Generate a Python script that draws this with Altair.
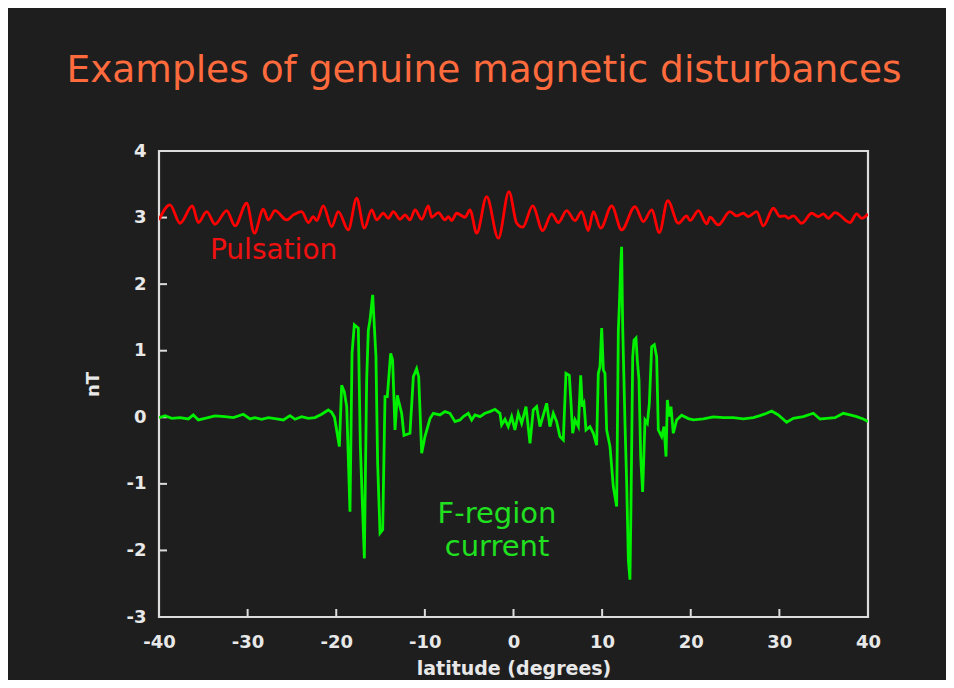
import altair as alt
import pandas as pd

# ---------------- data ----------------
red_lat = [-40, -38.76, -37.63, -36.24, -35.56, -34.62, -33.68, -32.36, -31.42, -30.11,
           -29.24, -28.23, -27.66, -26.91, -25.6, -24.84, -23.9, -23.15, -22.59, -22.21,
           -21.46, -20.52, -19.77, -18.64, -17.7, -16.83, -16.0, -15.44, -14.69, -14.12,
           -13.56, -12.81, -12.24, -11.68, -11.11, -10.36, -9.61, -9.23, -8.48, -7.73,
           -7.35, -6.98, -6.41, -5.47, -4.91, -4.15, -3.03, -1.71, -0.51, 0.36,
           1.04, 2.16, 3.29, 4.31, 5.06, 6.0, 6.94, 7.69, 8.44, 9.01,
           9.84, 11.08, 12.2, 13.71, 14.65, 15.59, 16.46, 17.4, 18.6, 19.54,
           19.92, 20.86, 21.8, 22.17, 23.11, 24.43, 25.18, 25.93, 26.5, 27.44,
           28.19, 29.32, 30.07, 30.63, 31.01, 31.57, 32.52, 33.65, 34.39, 34.96,
           35.52, 36.28, 37.97, 38.72, 39.29, 40]
red_nT = [2.965, 3.19, 2.915, 3.175, 2.925, 3.09, 2.9, 3.105, 2.875, 3.215,
          2.765, 3.125, 2.965, 3.105, 2.965, 3.04, 3.09, 2.925, 3.015, 2.955,
          3.175, 2.865, 3.09, 2.815, 3.29, 2.84, 3.115, 2.965, 3.065, 2.99,
          3.09, 2.975, 3.04, 2.965, 3.115, 2.975, 3.175, 3.005, 3.075, 2.965,
          3.015, 2.955, 3.065, 3.005, 3.115, 2.765, 3.315, 2.69, 3.39, 2.915,
          2.855, 3.175, 2.805, 3.055, 2.925, 3.105, 2.955, 3.09, 2.805, 3.09,
          2.84, 3.175, 2.815, 3.165, 2.94, 3.115, 2.775, 3.255, 2.915, 3.025,
          2.955, 3.105, 2.905, 3.005, 2.89, 3.09, 3.025, 3.065, 3.015, 3.09,
          2.875, 3.14, 3.015, 3.025, 2.99, 3.025, 2.915, 3.065, 3.015, 3.055,
          2.99, 3.075, 2.925, 3.055, 2.99, 3.055]

green_lat = [-40, -39.32, -38.57, -37.63, -36.69, -36.13, -35.56, -34.81, -33.68, -32.55,
             -31.61, -30.48, -29.73, -29.17, -28.42, -27.66, -26.72, -25.97, -25.22, -24.65,
             -23.9, -23.15, -22.4, -21.65, -20.9, -20.52, -20.2,
             -19.65, -19.39, -19.09, -18.82, -18.45, -18.22, -17.96, -17.51, -17.28, -16.83,
             -16.57, -16.38, -16.19, -15.89, -15.7, -15.52, -15.33, -15.06, -14.76, -14.5,
             -14.24, -13.86, -13.64, -13.37, -13.11, -12.81, -12.62, -12.36, -11.68, -11.3,
             -10.93, -10.7, -10.36, -9.99, -9.42,
             -9.05, -8.3, -7.73, -7.17, -6.6, -6.04, -5.66, -5.1, -4.72, -4.35,
             -3.78, -3.22, -2.66, -2.09, -1.53, -1.34, -0.96, -0.59, -0.21, 0.16,
             0.54, 0.92, 1.41, 1.86, 2.23, 2.61, 2.99, 3.74, 4.11, 4.49,
             4.87, 5.24,
             5.62, 5.92, 6.3, 6.49, 6.68, 6.94, 7.32, 7.58, 7.77, 7.95,
             8.18, 8.63, 9.01, 9.38, 9.57, 9.76, 9.95, 10.14, 10.32, 10.51,
             10.89, 11.26, 11.64, 11.83, 11.94, 12.09, 12.2, 12.32, 12.58, 12.77,
             12.96, 13.14, 13.26, 13.45, 13.6, 13.82, 13.97, 14.16, 14.35, 14.57,
             14.84, 15.1, 15.33, 15.59, 15.89, 16.15, 16.34, 16.72, 16.98, 17.21,
             17.36, 17.58, 17.77, 18.03, 18.41, 18.97, 19.73, 20.29,
             21.42, 22.55, 23.68, 24.8, 25.93, 27.06, 27.81, 28.57, 29.13, 29.88,
             30.82, 31.57, 32.7, 33.83, 34.58, 35.34, 36.28, 37.21, 37.97, 38.72,
             39.47, 40]
green_nT = [-0.005, 0.025, -0.015, -0.005, -0.025, 0.035, -0.04, -0.015, 0.02, 0.01,
            -0.005, 0.045, -0.025, -0.005, -0.03, -0.005, -0.025, -0.04, 0.025, -0.03,
            0.01, -0.015, -0.005, 0.045, 0.11, 0.075, 0.0,
            -0.44, 0.48, 0.38, 0.16, -1.42, 0.96, 1.39, 1.34, -0.44, -2.12,
            0.56, 1.31, 1.46, 1.84, 1.36, 0.91, -0.69, -1.74, -1.69, 0.31,
            0.31, 0.96, 0.86, -0.19, 0.33, 0.16, 0.06, -0.27, -0.24, 0.61,
            0.73, 0.61, -0.54, -0.29, -0.02,
            0.06, 0.035, 0.085, 0.06, -0.065, -0.04, 0.01, 0.06, -0.04, 0.035,
            0.01, 0.06, 0.085, 0.12, 0.06, -0.115, -0.03, -0.14, 0.01, -0.19,
            0.06, -0.09, 0.16, -0.39, 0.11, 0.16, -0.14, 0.21, -0.14, 0.06,
            -0.065, -0.29,
            -0.34, 0.66, 0.63, 0.21, -0.24, -0.04, -0.14, 0.63, 0.16, 0.21,
            -0.19, -0.14, -0.24, -0.42, 0.66, 0.76, 1.34, 0.71, 0.66, -0.19,
            -0.44, -1.04, -1.34, 1.31, 1.66, 2.26, 2.56, 1.36, -0.09, -0.99,
            -2.14, -2.44, -1.29, 0.91, 1.16, 1.19, 0.86, 0.56, -0.59, -1.12,
            -0.04, -0.09, 0.21, 1.06, 1.09, 0.91, -0.19, -0.29, -0.14, -0.59,
            0.26, 0.01, 0.16, -0.24, -0.04, 0.03, -0.02, -0.04,
            -0.025, 0.005, -0.005, -0.005, -0.025, -0.005, 0.025, 0.06, 0.095, 0.035,
            -0.075, -0.015, 0.01, 0.06, -0.025, -0.015, -0.005, 0.06, 0.035, 0.01,
            -0.025, -0.065]

x_tick_values = [-40, -30, -20, -10, 0, 10, 20, 30, 40]
y_tick_values = [-3, -2, -1, 0, 1, 2, 3, 4]
inner_x_ticks = [-30, -20, -10, 0, 10, 20, 30]
inner_y_ticks = [-2, -1, 0, 1, 2, 3]

label_text = ["Pulsation", "F-region", "current"]
label_lat = [-34.25, -1.86, -1.86]
label_nT = [2.378, -1.588, -2.084]
label_series = ["red", "green", "green"]

assert len(red_lat) == len(red_nT)
assert len(green_lat) == len(green_nT)

# ---------------- styling ----------------
W, H = 709, 466
BG = "#1e1e1e"
FRAME = "#dcdcdc"
TXT = "#e8e8e8"
FONT = "DejaVu Sans"
RED = "#ff0000"
GREEN = "#00f000"

red_df = pd.DataFrame({"lat": red_lat, "nT": red_nT})
green_df = pd.DataFrame({"lat": green_lat, "nT": green_nT})
labels_df = pd.DataFrame({"text": label_text, "lat": label_lat, "nT": label_nT,
                          "series": label_series})
xt_df = pd.DataFrame({"lat": inner_x_ticks})
yt_df = pd.DataFrame({"nT": inner_y_ticks})

xscale = alt.Scale(domain=[-40, 40], nice=False, zero=False)
yscale = alt.Scale(domain=[-3, 4], nice=False, zero=False)

xaxis = alt.Axis(values=x_tick_values, title="latitude (degrees)", grid=False,
                 domain=False, ticks=False, tickSize=0, labelFont=FONT,
                 labelExpr="'' + datum.value",
                 labelFontSize=18, labelFontWeight="bold", labelColor=TXT,
                 labelPadding=30, labelBaseline="alphabetic", labelFlush=False,
                 labelOverlap=False, titleFont=FONT, titleFontSize=19,
                 titleFontWeight="bold", titleColor=TXT, titleY=57,
                 titleBaseline="alphabetic")
yaxis = alt.Axis(values=y_tick_values, title="nT", grid=False, domain=False,
                 ticks=False, tickSize=0, labelFont=FONT, labelFontSize=18,
                 labelExpr="'' + datum.value",
                 labelFontWeight="bold", labelColor=TXT, labelPadding=13,
                 labelFlush=False, labelOverlap=False, titleFont=FONT,
                 titleFontSize=18, titleFontWeight="bold", titleColor=TXT,
                 titleX=-66, titleY=H / 2, titleAngle=270, titleAlign="center",
                 titleBaseline="middle")

red_line = alt.Chart(red_df).mark_line(color=RED, strokeWidth=2.8,
                                        interpolate="monotone", clip=True).encode(
    x=alt.X("lat:Q", scale=xscale, axis=xaxis),
    y=alt.Y("nT:Q", scale=yscale, axis=yaxis),
    order="lat:Q",
)
green_line = alt.Chart(green_df).mark_line(color=GREEN, strokeWidth=2.8,
                                            clip=True).encode(
    x=alt.X("lat:Q", scale=xscale),
    y=alt.Y("nT:Q", scale=yscale),
    order="lat:Q",
)
x_ticks = alt.Chart(xt_df).mark_rule(color=FRAME, strokeWidth=2).encode(
    x=alt.X("lat:Q", scale=xscale),
    y=alt.value(H),
    y2=alt.value(H - 8),
)
y_ticks = alt.Chart(yt_df).mark_rule(color=FRAME, strokeWidth=2).encode(
    y=alt.Y("nT:Q", scale=yscale),
    x=alt.value(0),
    x2=alt.value(8),
)
pulsation = alt.Chart(labels_df).transform_filter(
    alt.datum.series == "red").mark_text(
    font=FONT, fontSize=28, color="#f01010", align="left", baseline="alphabetic").encode(
    x=alt.X("lat:Q", scale=xscale), y=alt.Y("nT:Q", scale=yscale), text="text:N")
fregion = alt.Chart(labels_df).transform_filter(
    alt.datum.series == "green").mark_text(
    font=FONT, fontSize=29, color="#20e020", align="center", baseline="alphabetic").encode(
    x=alt.X("lat:Q", scale=xscale), y=alt.Y("nT:Q", scale=yscale), text="text:N")

chart = alt.layer(
    x_ticks, y_ticks, red_line, green_line, pulsation, fregion
).properties(
    width=W,
    height=H,
    title=alt.TitleParams("Examples of genuine magnetic disturbances", font=FONT,
                          fontSize=37.5, fontWeight="normal", color="#ff6b3d",
                          anchor="middle", frame="group", dx=-29.5, offset=23,
                          baseline="alphabetic"),
    padding={"left": 151, "top": 143, "right": 78, "bottom": 63},
    autosize=alt.AutoSizeParams(type="none"),
    background=BG,
).configure_view(stroke=FRAME, strokeWidth=2.2)

chart.save("out.html", embed_options={"renderer": "svg", "actions": False})
